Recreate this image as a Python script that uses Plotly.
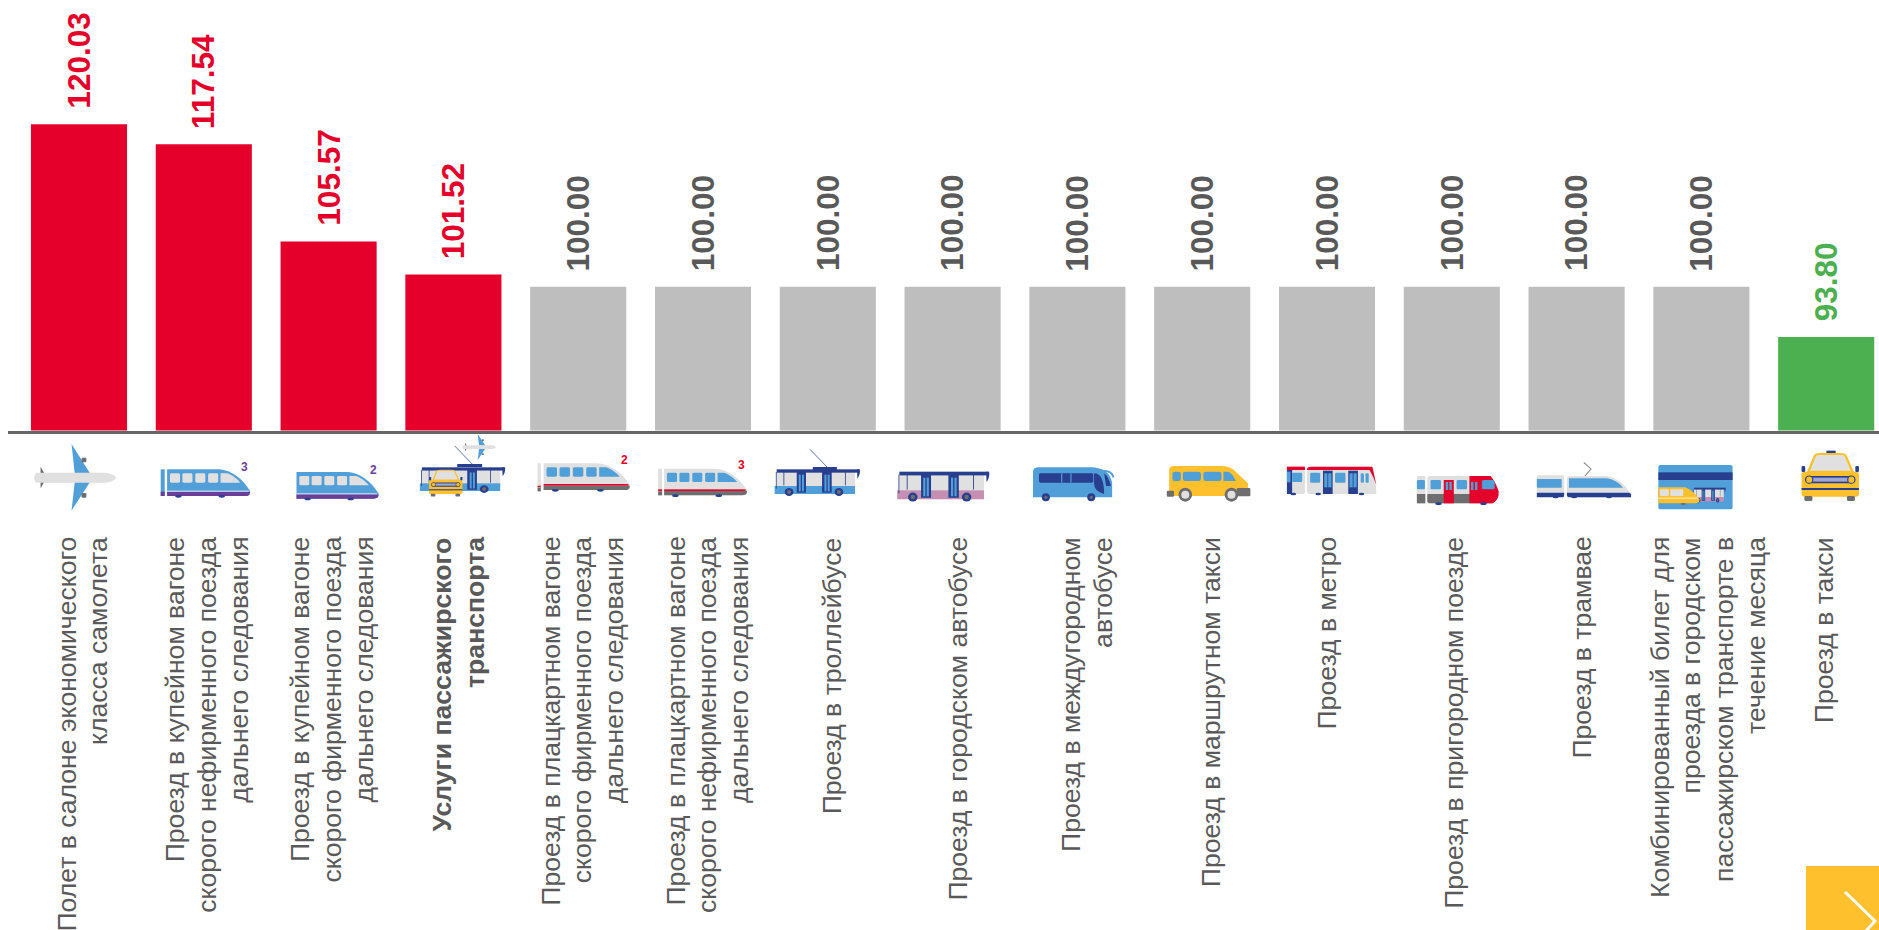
import base64
import plotly.graph_objects as go

W, H = 1879, 930

# ---- data -------------------------------------------------------------
categories = [
    "Полет в салоне экономического<br>класса самолета",
    "Проезд в купейном вагоне<br>скорого нефирменного поезда<br>дальнего следования",
    "Проезд в купейном вагоне<br>скорого фирменного поезда<br>дальнего следования",
    "Услуги пассажирского<br>транспорта",
    "Проезд в плацкартном вагоне<br>скорого фирменного поезда<br>дальнего следования",
    "Проезд в плацкартном вагоне<br>скорого нефирменного поезда<br>дальнего следования",
    "Проезд в троллейбусе",
    "Проезд в городском автобусе",
    "Проезд в междугородном<br>автобусе",
    "Проезд в маршрутном такси",
    "Проезд в метро",
    "Проезд в пригородном поезде",
    "Проезд в трамвае",
    "Комбинированный билет для<br>проезда в городском<br>пассажирском транспорте в<br>течение месяца",
    "Проезд в такси",
]
values = [120.03, 117.54, 105.57, 101.52, 100.00, 100.00, 100.00, 100.00,
          100.00, 100.00, 100.00, 100.00, 100.00, 100.00, 93.80]
bold_categories = ["Услуги пассажирского<br>транспорта"]

RED, GREY, GREEN = "#E4002B", "#BEBEBE", "#4CAF50"
TXT = "#595959"
FONT = "Liberation Sans"

# small horizontal nudges of each label block, px
LABEL_NUDGE = (0, 0, 0, 2, 1, 1, 1, 2, 6, 6, -4, -1, 2, 3, -5)


def bar_colour(v):
    return RED if v > 100 else GREEN if v < 100 else GREY


def text_colour(v):
    return RED if v > 100 else "#4CAF50" if v < 100 else TXT


# ---- decorative icons (SVG pictograms, in zoom-strip coordinates) ------
BLUE, NAVY, PUR, LG, DG, YEL, PINK = ("#519FD9", "#273F8E", "#6B3F97", "#E0E0E0",
                                      "#6E6E6E", "#FEC02D", "#C48FB3")


def R(x, y, w, h, c, r=0):
    return f'<rect x="{x}" y="{y}" width="{w}" height="{h}" fill="{c}" rx="{r}" ry="{r}"/>'


def E(cx, cy, rx, ry, c, extra=""):
    return f'<ellipse cx="{cx}" cy="{cy}" rx="{rx}" ry="{ry}" fill="{c}" {extra}/>'


def P(d, c, extra=""):
    return f'<path d="{d}" fill="{c}" {extra}/>'


def G(dx, dy, sx, sy, body):
    return f'<g transform="translate({dx},{dy}) scale({sx},{sy})">{body}</g>'


def plane():
    return (P("M178,72 L224,160 L186,160 Z", BLUE) + P("M186,186 L224,186 L178,272 Z", BLUE)
            + R(203, 113, 12, 14, DG, 3) + R(203, 219, 12, 14, DG, 3)
            + P("M101,140 L113,165 L113,180 L101,205 Z", DG)
            + P("M90,158 H262 Q280,160 290,173 Q280,186 262,188 H90 Q80,173 90,158 Z", LG))


def train(body, win, stripe, bottom, wheel, stripe_h=5):
    # local box: 206 x 80
    s = P("M0,0 H130 Q175,6 206,64 V70 Q206,80 194,80 H0 Z", body)
    s += P("M0,67 H206 V70 Q206,80 194,80 H0 Z", bottom)
    if stripe:
        s += R(0, 67 - stripe_h, 203, stripe_h, stripe)
    for x in (7, 38, 70, 102):
        s += R(x, 12, 25, 28, win, 4)
    s += P("M133,12 H150 Q170,22 182,40 H133 Z", win)
    s += E(28, 81, 8, 4, wheel) + E(136, 81, 8, 4, wheel)
    return s


def bus(lower, wheel_r=1.0):
    # local box: 0..212 x, 0..80 y
    s = R(5, 8, 195, 50, LG) + R(0, 50, 200, 24, lower)
    s += R(5, 0, 205, 10, NAVY)
    s += R(55, 8, 23, 62, NAVY) + R(118, 8, 24, 62, NAVY)
    s += R(60, 16, 5, 50, BLUE) + R(68, 16, 5, 50, BLUE) + R(124, 16, 5, 50, BLUE) + R(132, 16, 5, 50, BLUE)
    s += R(3, 8, 2, 50, NAVY) + R(22, 8, 2, 40, NAVY) + R(175, 8, 2, 40, NAVY)
    s += E(36, 68, 11 * wheel_r, 12 * wheel_r, NAVY) + E(36, 68, 5, 6, DG)
    s += E(160, 68, 11 * wheel_r, 12 * wheel_r, NAVY) + E(160, 68, 5, 6, DG)
    s += P("M205,0 H212 Q214,14 206,28 Z", NAVY)
    return s


def trolley():
    s = f'<line x1="88" y1="-60" x2="132" y2="-5" stroke="{NAVY}" stroke-width="2"/>'
    s += R(95, -7, 60, 9, NAVY) + G(0, 0, 1, 1, bus(BLUE))
    return s


def taxi():
    # local box: 0..143, 0..150
    s = R(62, 0, 23, 13, NAVY)
    s += P("M17,63 L33,16 Q35,10 45,10 H98 Q108,10 110,16 L127,63 Z", LG, f'stroke="{YEL}" stroke-width="6"')
    s += R(0, 63, 143, 75, YEL, 8) + R(0, 46, 9, 18, NAVY, 3) + R(134, 46, 9, 18, NAVY, 3)
    s += R(10, 76, 123, 22, NAVY, 9) + R(24, 81, 95, 12, "#9FA8D0")
    s += E(19, 87, 9, 11, YEL, f'stroke="{NAVY}" stroke-width="3"') + E(124, 87, 9, 11, YEL, f'stroke="{NAVY}" stroke-width="3"')
    s += R(0, 112, 143, 6, NAVY)
    s += R(7, 136, 20, 15, DG, 4) + R(113, 136, 20, 15, DG, 4)
    return s


def strip1():
    s = plane()
    s += R(400, 148, 10, 80, BLUE) + R(400, 215, 10, 13, PUR)
    s += G(416, 148, 1, 1, train(BLUE, LG, "#E8E8F5", PUR, NAVY, 3))
    s += G(738, 156, 0.99, 1, train(BLUE, LG, "#E8E8F5", PUR, NAVY, 3))
    # combined icon
    s += G(1045, 142, 1, 0.96, bus(BLUE))
    s += f'<line x1="1132" y1="78" x2="1175" y2="132" stroke="{NAVY}" stroke-width="2"/>'
    s += R(1138, 132, 62, 9, NAVY)
    s += G(1116, 14, 0.41, 0.39, plane())
    s += G(1068, 145, 0.58, 0.56, taxi())
    # red train 2
    s += R(1338, 130, 8, 84, LG) + R(1338, 197, 8, 5, RED) + R(1338, 203, 8, 11, DG)
    s += G(1353, 130, 1.04, 1.0, train(LG, BLUE, RED, DG, NAVY))
    return s


def strip2():
    s = R(70, 146, 10, 80, LG) + R(70, 208, 10, 5, RED) + R(70, 214, 10, 12, DG)
    s += G(85, 146, 1, 1, train(LG, BLUE, RED, DG, NAVY))
    s += G(360, 148, 1, 1, trolley())
    s += G(665, 155, 1.08, 1.12, bus(PINK))
    # coach
    s += P("M1003,155 Q1003,142 1018,142 H1150 Q1195,145 1200,190 V232 H1003 Z", BLUE)
    s += R(1018, 160, 135, 28, NAVY, 4) + R(1073, 160, 3, 28, BLUE) + R(1096, 160, 3, 28, BLUE)
    s += P("M1155,160 Q1180,160 1180,222 Q1155,215 1155,190 Z", NAVY) + P("M1180,160 Q1192,172 1197,198 H1185 Z", NAVY)
    s += f'<path d="M1170,152 Q1200,150 1203,172" fill="none" stroke="{BLUE}" stroke-width="5"/>'
    s += E(1035, 232, 10, 12, NAVY) + E(1035, 232, 4, 5, DG) + E(1148, 232, 10, 12, NAVY) + E(1148, 232, 4, 5, DG)
    # minivan
    s += P("M1342,150 Q1342,138 1355,138 H1475 Q1495,138 1510,158 L1538,190 V228 H1342 Z", YEL)
    s += R(1350, 155, 21, 28, BLUE, 6) + R(1376, 155, 45, 28, BLUE, 6) + R(1427, 155, 45, 28, BLUE, 6)
    s += P("M1477,155 H1490 Q1502,165 1508,183 H1477 Z", BLUE)
    s += R(1336, 212, 18, 18, DG, 3) + R(1510, 204, 34, 25, DG, 3)
    for cx in (1382, 1497):
        s += E(cx, 224, 17, 21, DG) + E(cx, 224, 10, 12, LG)
    return s


def strip3():
    # metro
    s = R(92, 140, 45, 82, LG, 5) + R(92, 140, 45, 10, RED) + R(92, 150, 13, 72, NAVY) + R(92, 155, 9, 32, BLUE)
    s += R(105, 158, 25, 28, BLUE, 3)
    s += P("M142,148 Q142,140 152,140 H305 Q312,155 315,222 H150 Q142,222 142,214 Z", LG)
    s += P("M142,148 Q142,140 152,140 H305 L315,195 Q308,170 298,150 H142 Z", RED)
    s += R(150, 158, 25, 30, BLUE, 3) + R(212, 158, 26, 30, BLUE, 3)
    for x in (182, 245):
        s += R(x, 152, 24, 70, NAVY) + R(x + 3, 160, 8, 42, BLUE) + R(x + 13, 160, 8, 42, BLUE)
    s += R(276, 160, 8, 28, BLUE, 3) + R(288, 160, 8, 28, BLUE, 3)
    for cx in (108, 170, 278):
        s += E(cx, 222, 7, 4, NAVY)
    # suburban train
    s += R(416, 168, 21, 82, LG, 3) + R(416, 222, 21, 28, DG) + R(416, 180, 20, 28, BLUE, 3)
    s += P("M442,176 Q442,168 450,168 H590 L615,195 L620,215 Q620,240 605,250 H450 Q442,250 442,242 Z", LG)
    s += P("M442,222 H620 Q618,240 605,250 H450 Q442,250 442,242 Z", DG)
    s += P("M547,168 H600 Q612,185 620,215 Q620,240 605,250 H547 Z", RED)
    s += R(483, 180, 25, 70, RED) + R(488, 186, 6, 24, BLUE) + R(497, 186, 6, 24, BLUE)
    s += R(450, 180, 26, 28, BLUE, 3) + R(515, 180, 26, 28, BLUE, 3)
    s += R(551, 186, 6, 24, BLUE) + R(561, 186, 6, 24, BLUE) + R(578, 180, 32, 28, BLUE, 5)
    s += E(470, 251, 8, 4, NAVY) + E(582, 251, 8, 4, NAVY)
    # tram
    s += R(715, 166, 68, 65, LG, 4) + R(715, 177, 62, 26, BLUE, 2) + P("M715,218 H783 V228 Q783,232 778,232 H715 Z", NAVY)
    s += P("M790,176 Q790,168 798,168 H890 Q925,175 950,222 V232 H798 Q790,232 790,224 Z", LG)
    s += P("M795,175 H890 Q915,180 930,203 H795 Z", BLUE)
    s += P("M790,218 H945 L950,222 V232 H798 Q790,232 790,224 Z", NAVY)
    s += f'<path d="M832,127 L850,147 L835,168" fill="none" stroke="#8C8C8C" stroke-width="3"/>'
    for cx in (762, 808, 895):
        s += E(cx, 232, 7, 3, NAVY)
    # travel card
    s += R(1018, 135, 185, 133, BLUE, 5) + R(1018, 157, 185, 23, NAVY)
    s += G(1105, 203, 0.38, 0.56, bus(PINK))
    s += P("M1018,202 H1085 Q1105,212 1120,238 V244 Q1118,250 1105,250 H1018 Z", YEL)
    s += R(1022, 208, 22, 20, LG, 3) + R(1048, 208, 32, 20, LG, 3)
    s += R(1018, 233, 100, 3, "#F5F0D0") + E(1080, 252, 7, 3, DG)
    # taxi
    s += G(1375, 92, 1, 1, taxi())
    return s


def svg_image(body):
    svg = (f'<svg xmlns="http://www.w3.org/2000/svg" width="1568" height="300" viewBox="0 0 1568 300" '
           f'preserveAspectRatio="none">{body}</svg>')
    return "data:image/svg+xml;base64," + base64.b64encode(svg.encode()).decode()


def px(x):
    return x / W


def py(y):
    return 1 - y / H


images = [
    dict(source=svg_image(body), xref="paper", yref="paper", x=px(x0), y=py(420),
         sizex=w / W, sizey=100 / H, sizing="stretch", xanchor="left", yanchor="top", layer="above")
    for body, x0, w in ((strip1(), 0, 630), (strip2(), 630, 630), (strip3(), 1250, 629))
]

# ---- figure -------------------------------------------------------------
x_keys = [c.replace("<br>", " ") for c in categories]
fig = go.Figure(go.Bar(
    x=x_keys, y=values, width=0.77,
    marker=dict(color=[bar_colour(v) for v in values], line_width=0),
    hoverinfo="x+y",
))

annotations = []
LINE_GAP = 32
for key, cat, v, nudge in zip(x_keys, categories, values, LABEL_NUDGE):
    annotations.append(dict(
        x=key, y=v, xref="x", yref="y", text=f"{v:.2f}", showarrow=False, textangle=-90,
        xanchor="center", yanchor="bottom", yshift=13.5,
        font=dict(family=FONT, size=31.5, color=text_colour(v), weight="bold"),
    ))
    lines = cat.split("<br>")
    is_bold = cat in bold_categories
    for i, line in enumerate(lines):
        annotations.append(dict(
            x=key, y=py(535), xref="x", yref="paper", text=line, showarrow=False, textangle=-90,
            xanchor="center", yanchor="top",
            xshift=(i - (len(lines) - 1) / 2) * LINE_GAP + 3 + nudge,
            font=dict(family=FONT, size=26.6, color=TXT, weight="bold" if is_bold else "normal"),
        ))

# small car-class digits beside the train icons
for txt, col, x, y in (("3", PUR, 244, 467), ("2", PUR, 373, 470),
                       ("2", RED, 624, 460), ("3", RED, 741, 465)):
    annotations.append(dict(x=px(x), y=py(y), xref="paper", yref="paper", text=txt, showarrow=False,
                            font=dict(family=FONT, size=12, color=col, weight="bold"),
                            xanchor="center", yanchor="middle"))

shapes = [
    dict(type="rect", xref="paper", yref="paper", x0=px(1806), x1=1, y0=py(866), y1=0,
         fillcolor=YEL, line_width=0),
    dict(type="path", xref="paper", yref="paper",
         path=f"M{px(1845)},{py(892)} L{px(1875)},{py(921)} L{px(1865)},{py(932)}",
         line=dict(color="white", width=3)),
]

PX_PER_UNIT = 8.12
BASE = 82.3
AXIS_Y = 430.5
fig.update_layout(
    width=W, height=H, autosize=False, margin=dict(l=0, r=0, t=0, b=0),
    paper_bgcolor="white", plot_bgcolor="white", showlegend=False,
    xaxis=dict(domain=[px(8), 1], range=[(8 - 79) / 124.8, (W - 79) / 124.8], type="category",
               categoryorder="array", categoryarray=x_keys, showticklabels=False, ticks="",
               showgrid=False, zeroline=False, showline=True, linecolor="#666666", linewidth=3),
    yaxis=dict(domain=[py(AXIS_Y), 1], range=[BASE, BASE + AXIS_Y / PX_PER_UNIT], visible=False,
               showgrid=False, zeroline=False),
    annotations=annotations, shapes=shapes, images=images,
)

fig.write_html("out.html", config=dict(displayModeBar=False),
               post_script="document.body.style.margin='0';document.body.style.overflow='hidden';")
